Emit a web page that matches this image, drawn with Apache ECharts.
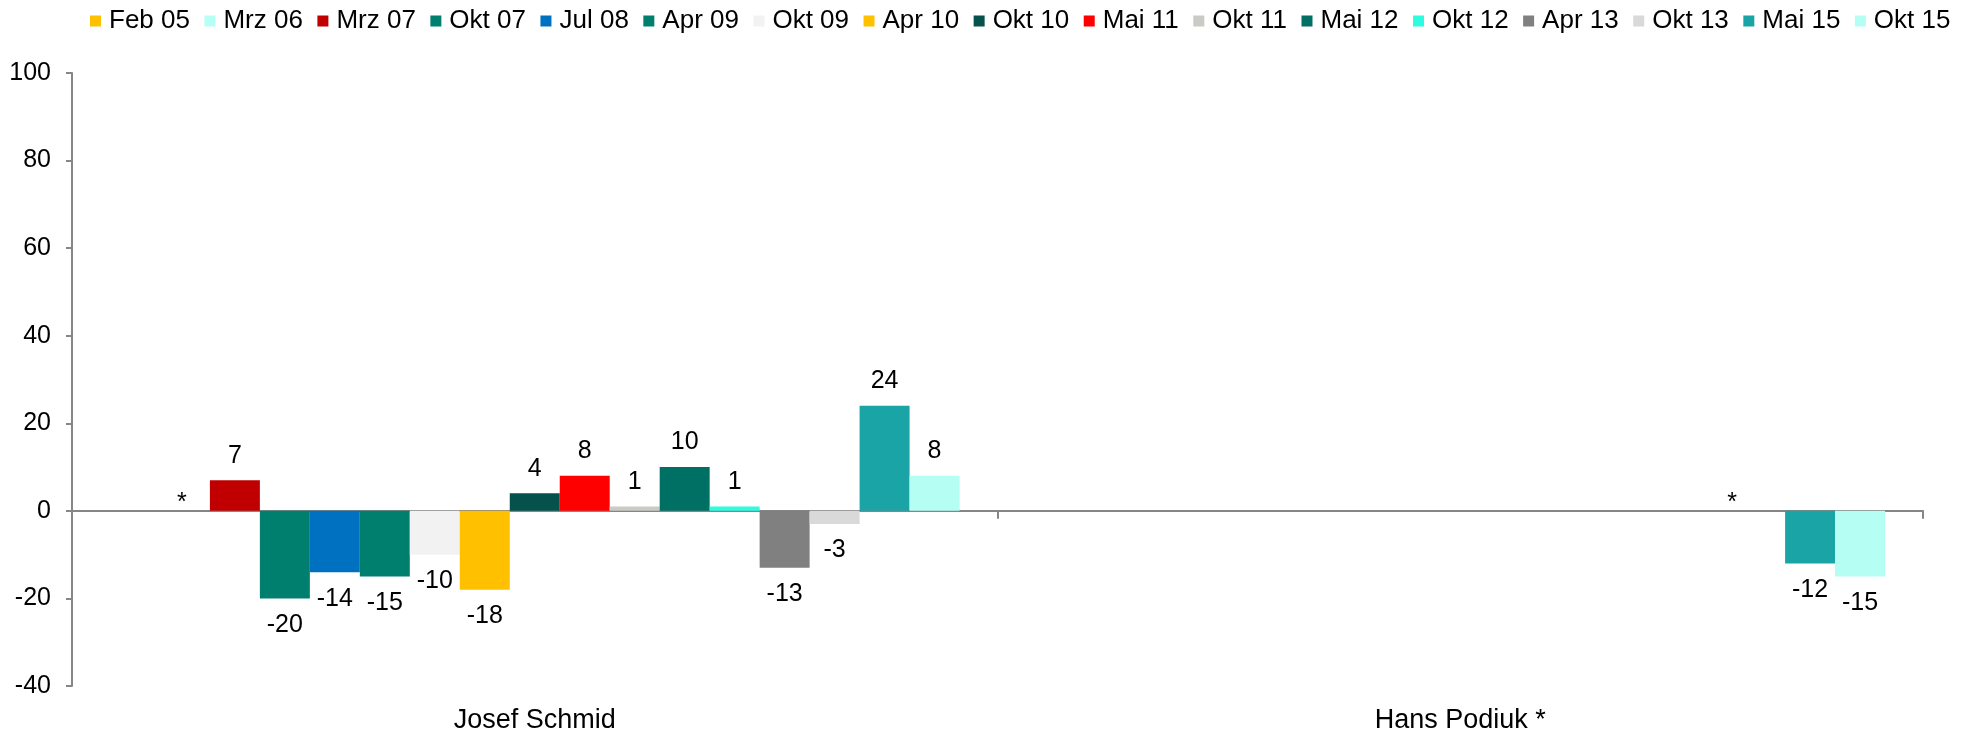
<!DOCTYPE html>
<html><head><meta charset="utf-8">
<script src="https://cdn.jsdelivr.net/npm/echarts@6/dist/echarts.min.js"></script>
<style>html,body{margin:0;padding:0;background:#fff}#c{width:1973px;height:734px}</style>
</head><body><div id="c"></div>
<script>
const categories = ['Josef Schmid', 'Hans Podiuk *'];
const waves = ['Feb 05','Mrz 06','Mrz 07','Okt 07','Jul 08','Apr 09','Okt 09','Apr 10','Okt 10','Mai 11','Okt 11','Mai 12','Okt 12','Apr 13','Okt 13','Mai 15','Okt 15'];
const josefSchmid = [null, 0, 7, -20, -14, -15, -10, -18, 4, 8, 1, 10, 1, -13, -3, 24, 8];
const hansPodiuk = [null, null, null, null, null, null, null, null, null, null, null, null, null, null, 0, -12, -15];
// [category index, wave index] shown with '*'
const starMarks = [[0, 1], [1, 14]];
const yMin = -40, yMax = 100, yInterval = 20;
const colors = ['#FFC000','#B7FEF4','#C00000','#007F6E','#0070C0','#007F6E','#F2F2F2','#FFC000','#04524B','#FF0000','#CACAC6','#006F64','#2CFDE0','#808080','#D9D9D9','#1AA4A6','#B5FEF3'];

const FONT = 'Liberation Sans, Arial, sans-serif';
const perCat = [josefSchmid, hansPodiuk];
const starOffsets = [[-3, 5], [-28, 5]];

const series = waves.map((name, s) => ({
  name, type: 'bar', xAxisIndex: 0, yAxisIndex: 0,
  barGap: '0%', barCategoryGap: '8.2%',
  itemStyle: { color: colors[s] },
  emphasis: { disabled: true },
  data: perCat.map((arr, c) => {
    const v = arr[s];
    if (v === null || v === undefined) return '-';
    const star = starMarks.some(([cc, ss]) => cc === c && ss === s);
    return {
      value: v,
      label: {
        show: true,
        position: v < 0 ? 'bottom' : 'top',
        distance: star ? 0 : (v < 0 ? 14 : 12),
        offset: star ? starOffsets[c] : [0, 0],
        formatter: star ? '*' : '{c}',
        fontSize: 25, color: '#000', fontFamily: FONT
      }
    };
  })
}));

const chart = echarts.init(document.getElementById('c'), null, { renderer: 'canvas' });
chart.setOption({
  animation: false,
  backgroundColor: '#fff',
  textStyle: { fontFamily: FONT },
  legend: {
    data: waves, top: 3, left: 85,
    icon: 'rect', itemWidth: 11, itemHeight: 11, itemGap: 14.5,
    textStyle: { fontSize: 26, color: '#000', fontFamily: FONT, padding: [0, 0, 0, 3] },
    selectedMode: false
  },
  grid: { left: 72, right: 50, top: 73, bottom: 48, containLabel: false },
  xAxis: [
    {
      type: 'category', data: categories, position: 'bottom',
      axisLine: { onZero: true, lineStyle: { color: '#868686', width: 2 } },
      axisTick: { show: true, length: 8, lineStyle: { color: '#868686', width: 2 } },
      axisLabel: { show: false }
    },
    {
      type: 'category', data: categories, position: 'bottom',
      axisLine: { show: false, onZero: false },
      axisTick: { show: false },
      axisLabel: { show: true, fontSize: 27, color: '#000', margin: 21, fontFamily: FONT }
    }
  ],
  yAxis: {
    type: 'value', min: yMin, max: yMax, interval: yInterval,
    axisLine: { show: true, lineStyle: { color: '#868686', width: 2 } },
    axisTick: { show: true, length: 6, lineStyle: { color: '#868686', width: 2 } },
    splitLine: { show: false },
    axisLabel: { fontSize: 25, color: '#000', margin: 21, fontFamily: FONT }
  },
  series
});
</script></body></html>
